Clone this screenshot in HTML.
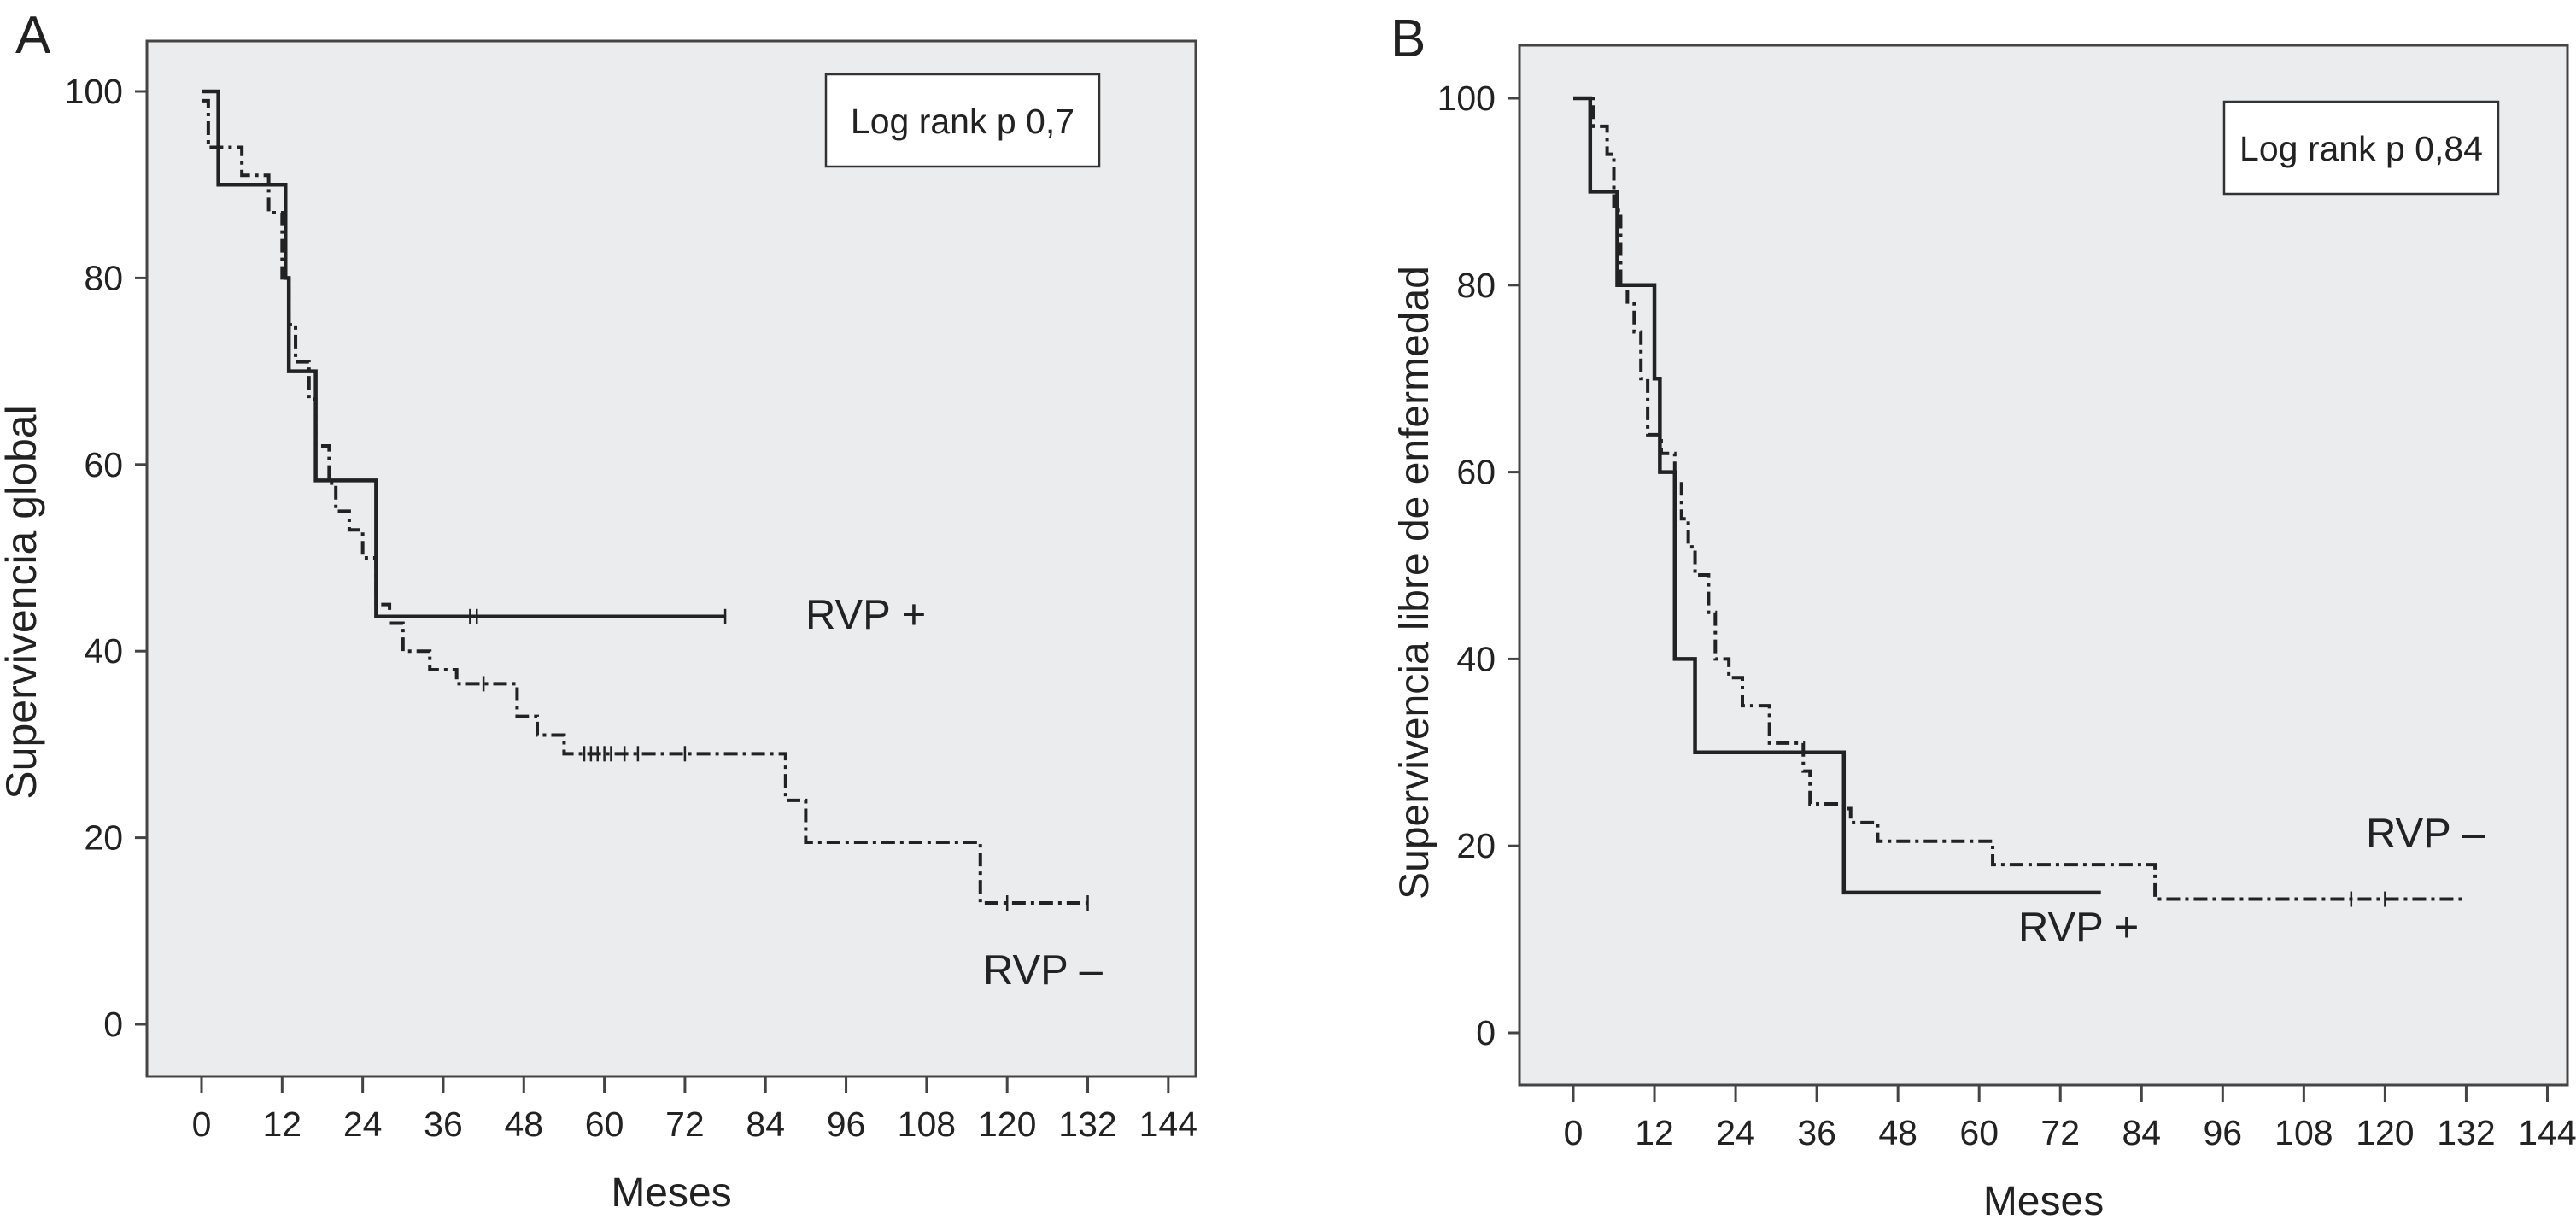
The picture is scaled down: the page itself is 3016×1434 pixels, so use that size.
<!DOCTYPE html>
<html><head><meta charset="utf-8"><style>
html,body{margin:0;padding:0;background:#fff;}
svg{display:block;font-family:"Liberation Sans",Arial,sans-serif;}
</style></head><body>
<svg id="chart" width="3016" height="1434" viewBox="0 0 3016 1434" xmlns="http://www.w3.org/2000/svg"></svg>
<script>
// Panel A data
const xTicks = [0,12,24,36,48,60,72,84,96,108,120,132,144];
const yTicks = [0,20,40,60,80,100];
const aPosTimes = [0,2.5,12.5,13,17,26,78];
const aPosVals  = [100,90,80,70,58.3,43.7,43.7];
const aPosCens  = [40,41,78];
const aNegTimes = [0,1,6,10,12,13,14,16,17,19,20,22,24,26,28,30,34,38,47,50,54,87,90,116,132];
const aNegVals  = [99,94,91,87,80,75,71,67,62,58,55,53,50,45,43,40,38,36.5,33,31,29,24,19.5,13,13];
const aNegCens  = [42,57,58,59,60,61,63,65,72,120,132];
// Panel B data
const bPosTimes = [0,2.5,6.5,12,12.8,15,18,40,78];
const bPosVals  = [100,90,80,70,60,40,30,15,15];
const bNegTimes = [0,2,3,5,6,7,8,9,10,11,13,15,16,17,18,20,21,23,25,29,34,35,40,41,45,62,86,132];
const bNegVals  = [100,100,97,94,88,80,78,75,70,64,62,59,55,52,49,45,40,38,35,31,28,24.5,24,22.5,20.5,18,14.3,14.3];
const bNegCens  = [115,120];

const NS='http://www.w3.org/2000/svg';
const svg=document.getElementById('chart');
function el(tag,attrs,parent){const e=document.createElementNS(NS,tag);for(const k in attrs)e.setAttribute(k,attrs[k]);(parent||svg).appendChild(e);return e;}
function txt(s,attrs,parent){const t=el('text',attrs,parent);t.textContent=s;return t;}

function panel(cfg){
  const g=el('g',{});
  
  
  const X=t=>cfg.x0+t*cfg.px;
  const Y=v=>cfg.y0-v*cfg.py;
  const bg=el('rect',{x:cfg.L,y:cfg.T,width:cfg.R-cfg.L,height:cfg.B-cfg.T,fill:'#ebecee',stroke:'#444',"stroke-width":3},g);
  
  
  xTicks.forEach(t=>{
    const l=el('line',{x1:X(t),x2:X(t),y1:cfg.B,y2:cfg.B+20,stroke:'#444','stroke-width':3},g);
    
    
    const tt=txt(String(t),{x:X(t),y:cfg.B+70,'font-size':41,'text-anchor':'middle',fill:'#222'},g);
    
    
  });
  yTicks.forEach(v=>{
    const l=el('line',{x1:cfg.L-14,x2:cfg.L,y1:Y(v),y2:Y(v),stroke:'#444','stroke-width':3},g);
    
    
    const tt=txt(String(v),{x:cfg.L-28,y:Y(v)+14,'font-size':41,'text-anchor':'end',fill:'#222'},g);
    
    
  });
  const xt=txt('Meses',{x:(cfg.L+cfg.R)/2,y:cfg.B+152,'font-size':48,'text-anchor':'middle',fill:'#222'},g);
  
  
  const yt=txt(cfg.ylabel,{x:0,y:0,'font-size':cfg.ylfs,'text-anchor':'middle',fill:'#222',transform:`translate(${cfg.ylx},${cfg.yly}) rotate(-90)`},g);
  
  
  const pl=txt(cfg.letter,{x:cfg.lx,y:cfg.ly,'font-size':62,fill:'#222'},g);
  
  
  const lb=el('rect',{x:cfg.bx,y:cfg.by,width:cfg.bw,height:cfg.bh,fill:'#fff',stroke:'#333','stroke-width':2.5},g);
  
  
  const lt=txt(cfg.logrank,{x:cfg.bx+cfg.bw/2,y:cfg.by+cfg.bh/2+15,'font-size':41,'text-anchor':'middle',fill:'#222'},g);
  
  
  function step(times,vals,dash,w,name){
    let d=`M${X(times[0])},${Y(vals[0])}`;
    for(let i=1;i<times.length;i++){d+=` H${X(times[i])} V${Y(vals[i])}`;}
    const p=el('path',{d:d,fill:'none',stroke:'#222','stroke-width':w,'stroke-dasharray':dash||'none'},g);
    
    
  }
  function valAt(times,vals,t){let v=vals[0];for(let i=0;i<times.length;i++){if(times[i]<=t)v=vals[i];}return v;}
  function cens(cs,times,vals,name){
    cs.forEach(c=>{
      const v=valAt(times,vals,c);
      const l=el('line',{x1:X(c),x2:X(c),y1:Y(v)-9,y2:Y(v)+9,stroke:'#222','stroke-width':2.5},g);
      
      
    });
  }
  step(cfg.negT,cfg.negV,'16 6 4 6',4,'rvp-negative-curve');
  cens(cfg.negC,cfg.negT,cfg.negV,'rvp-negative-censor');
  step(cfg.posT,cfg.posV,null,4.5,'rvp-positive-curve');
  cens(cfg.posC,cfg.posT,cfg.posV,'rvp-positive-censor');
  const p1=txt('RVP +',{x:cfg.pX,y:cfg.pY,'font-size':49,fill:'#222'},g);
  
  
  const p2=txt('RVP –',{x:cfg.nX,y:cfg.nY,'font-size':49,fill:'#222'},g);
  
  
}

panel({name:'panel-a',L:172,T:48,R:1400,B:1260,x0:236,px:7.86,y0:1199,py:10.92,
  ylabel:'Supervivencia global',ylfs:50,ylx:42,yly:705,letter:'A',lx:18,ly:62,
  bx:967,by:87,bw:320,bh:108,logrank:'Log rank p 0,7',
  posT:aPosTimes,posV:aPosVals,posC:aPosCens,negT:aNegTimes,negV:aNegVals,negC:aNegCens,
  pX:943,pY:736,nX:1151,nY:1152});
panel({name:'panel-b',L:1779,T:53,R:3006,B:1270,x0:1842,px:7.92,y0:1209,py:10.94,
  ylabel:'Supervivencia libre de enfermedad',ylfs:48,ylx:1672,yly:682,letter:'B',lx:1628,ly:66,
  bx:2604,by:119,bw:321,bh:108,logrank:'Log rank p 0,84',
  posT:bPosTimes,posV:bPosVals,posC:[],negT:bNegTimes,negV:bNegVals,negC:bNegCens,
  pX:2363,pY:1102,nX:2770,nY:992});
</script>
</body></html>
